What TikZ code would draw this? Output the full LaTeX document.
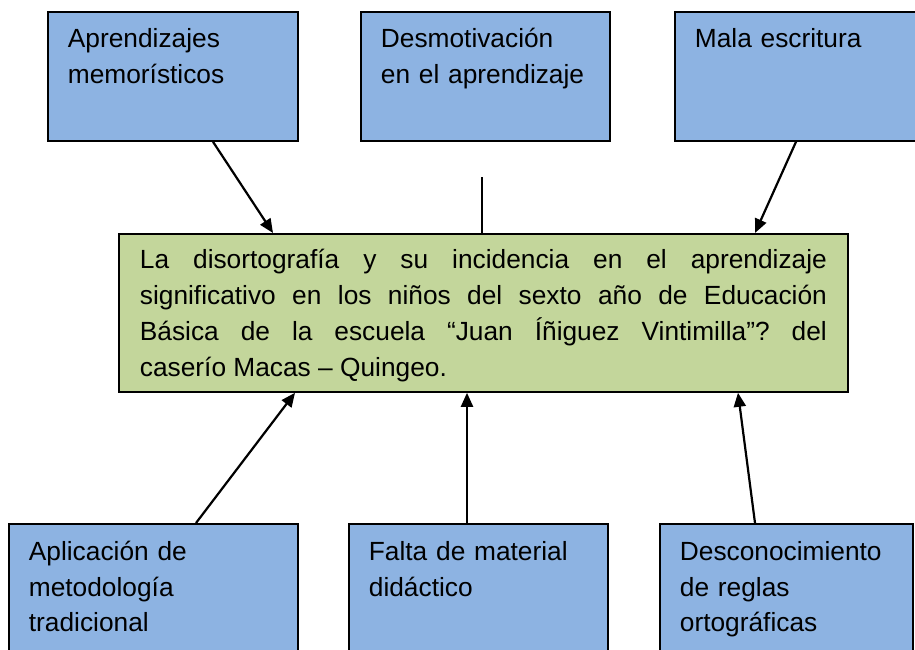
\documentclass[tikz,border=0pt]{standalone}
\usepackage{fontspec}
\setmainfont{Liberation Sans}
\usepackage{tikz}
\usetikzlibrary{arrows.meta}
\definecolor{azulcaja}{RGB}{141,179,226}
\definecolor{verdecaja}{RGB}{195,214,155}

\begin{document}
\begin{tikzpicture}[
    x=1pt, y=-1pt,
    >={Triangle[length=14pt, width=12pt]},
  ]
  \tikzset{
    box_causa/.style = {draw, line width=1.8pt, fill=azulcaja, anchor=north west,
        align=left, inner xsep=20pt, inner ysep=0pt, text height=36pt, text depth=93pt,
        font=\fontsize{26.3}{35.5}\selectfont},
    box_tema/.style = {draw, line width=1.8pt, fill=verdecaja, anchor=north west,
        align=justify, text width=687pt, inner xsep=21pt, inner ysep=0pt,
        text height=35pt, text depth=123pt,
        font=\fontsize{26.3}{35.7}\selectfont},
    flecha/.style = {line width=2.2pt},
  }

  % Page
  \path[use as bounding box, clip] (0,0) rectangle (915,650);
  \fill[white] (0,0) rectangle (915,650);

  % Effects
  \node[box_causa, text width=210pt] (memo) at (47,11) {Aprendizajes\\memorísticos};
  \node[box_causa, text width=209pt] (desmo) at (360,11) {Desmotivación\\en el aprendizaje};
  \node[box_causa, text width=250pt] (mala) at (674,11) {Mala escritura};

  % Problem
  \node[box_tema] (tema) at (118,233) {La disortografía y su incidencia en el aprendizaje\linebreak
    significativo en los niños del sexto año de Educación\linebreak
    Básica de la escuela “Juan Íñiguez Vintimilla”?\ del\linebreak
    caserío Macas – Quingeo.};

  % Causes
  \node[box_causa, text width=249pt, text height=37pt] (metodo) at (8,523) {Aplicación de\\metodología\\tradicional};
  \node[box_causa, text width=219pt, text height=37pt] (material) at (348,523) {Falta de material\\didáctico};
  \node[box_causa, text width=213pt, text height=37pt] (reglas) at (659,523) {Desconocimiento\\de reglas\\ortográficas};

  % Arrows to the problem
  \draw[->, flecha] ([xshift=166pt]memo.south west) -- ([xshift=155pt]tema.north west);
  \coordinate (corte) at (482,177);
  \draw[flecha] (corte) -- ([xshift=364pt]tema.north west);
  \draw[->, flecha] ([xshift=122pt]mala.south west) -- ([xshift=637pt]tema.north west);

  \draw[->, flecha] ([xshift=188pt]metodo.north west) -- ([xshift=177pt]tema.south west);
  \draw[->, flecha] ([xshift=119pt]material.north west) -- ([xshift=349pt]tema.south west);
  \draw[->, flecha] ([xshift=96pt]reglas.north west) -- ([xshift=620pt]tema.south west);

\end{tikzpicture}
\end{document}
